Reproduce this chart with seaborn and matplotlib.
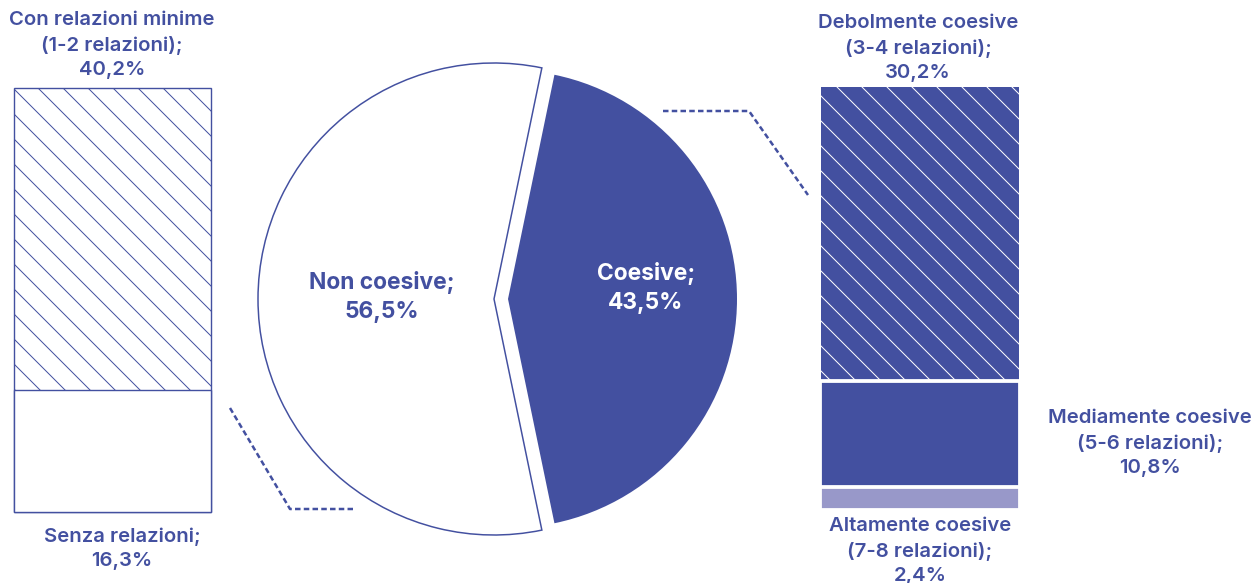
import matplotlib
matplotlib.use("Agg")
import matplotlib.pyplot as plt
import seaborn as sns
import numpy as np

# ---------------- data ----------------
pie_labels = ["Non coesive", "Coesive"]
pie_values = [56.5, 43.5]

# stacked bars, listed bottom -> top
left_labels = ["Senza relazioni", "Con relazioni minime\n(1-2 relazioni)"]
left_values = [16.3, 40.2]

right_labels = ["Altamente coesive\n(7-8 relazioni)",
                "Mediamente coesive\n(5-6 relazioni)",
                "Debolmente coesive\n(3-4 relazioni)"]
right_values = [2.4, 10.8, 30.2]

# ---------------- style ----------------
BLUE = "#4350a0"
LIGHT = "#9898c9"
TEXT = "#4350a0"

W, H, DPI = 1255, 583, 150


def pt(px):
    """pixel size -> points at the output dpi"""
    return px * 72 / DPI


sns.set_theme(style="white")
plt.rcParams["font.family"] = ["Inter", "DejaVu Sans"]
plt.rcParams["hatch.linewidth"] = pt(1.0)

fig = plt.figure(figsize=(W / DPI, H / DPI), dpi=DPI)
fig.patch.set_facecolor("white")


def px_axes(x0, y0, x1, y1):
    ax = fig.add_axes([x0 / W, 1 - y1 / H, (x1 - x0) / W, (y1 - y0) / H])
    ax.set_facecolor("none")
    return ax


def fmt(label, value):
    return f"{label};\n{value:.1f}%".replace(".", ",")


# ---------------- base layer: pie, connectors, labels ----------------
base = px_axes(0, 0, W, H)

total = sum(pie_values)
start = 180 - 360 * pie_values[0] / total / 2
R = 236
wedges, _ = base.pie(
    pie_values,
    colors=["white", BLUE],
    startangle=start,
    center=(494, 299),
    radius=R,
    explode=[0, 14],
    wedgeprops=dict(linewidth=pt(1.5)),
)
wedges[0].set_edgecolor(BLUE)
wedges[1].set_edgecolor("none")
wedges[1].set_radius(229)

base.set_xlim(0, W)
base.set_ylim(H, 0)
base.set_aspect("auto")
base.axis("off")

# dashed connectors
dash = dict(color=BLUE, lw=pt(2.5), dashes=(2.2, 1.3), solid_capstyle="butt")
base.plot([230, 290, 353], [408, 509, 509], **dash)
base.plot([663, 749, 808], [111, 111, 195], **dash)

# pie labels
base.text(382, 297, fmt(pie_labels[0], pie_values[0]), ha="center", va="center",
          color=BLUE, fontsize=pt(22.8), fontweight="bold", linespacing=1.45)
base.text(646, 288, fmt(pie_labels[1], pie_values[1]), ha="center", va="center",
          color="white", fontsize=pt(22.8), fontweight="bold", linespacing=1.45)

lab = dict(ha="center", va="center", color=TEXT, fontsize=pt(20.3),
           fontweight="semibold", linespacing=1.45)
base.text(112, 45, fmt(left_labels[1], left_values[1]), **lab)
base.text(122, 549, fmt(left_labels[0], left_values[0]), **lab)
base.text(918, 48, fmt(right_labels[2], right_values[2]), **lab)
base.text(1150, 443, fmt(right_labels[1], right_values[1]), **lab)
base.text(920, 551, fmt(right_labels[0], right_values[0]), **lab)


# ---------------- stacked bars ----------------
def stacked(ax, values, styles):
    cum = np.cumsum(values)
    for i in range(len(values) - 1, -1, -1):
        sns.barplot(x=[0], y=[cum[i]], ax=ax, width=1, saturation=1,
                    clip_on=False, **styles[i])
    ax.set_xlim(-0.5, 0.5)
    ax.set_ylim(0, cum[-1])
    ax.axis("off")


ax_l = px_axes(14, 88, 211, 512)
stacked(ax_l, left_values, [
    dict(color="white", edgecolor=BLUE, linewidth=pt(1.4)),
    dict(color="white", edgecolor=BLUE, linewidth=pt(1.4), hatch="\\\\"),
])

ax_r = px_axes(820, 86, 1020, 510)
stacked(ax_r, right_values, [
    dict(color=LIGHT, edgecolor="white", linewidth=pt(3.8)),
    dict(color=BLUE, edgecolor="white", linewidth=pt(3.8)),
    dict(color=BLUE, edgecolor="white", linewidth=pt(2.0), hatch="\\\\"),
])

fig.savefig("out.png", dpi=DPI, facecolor="white")
